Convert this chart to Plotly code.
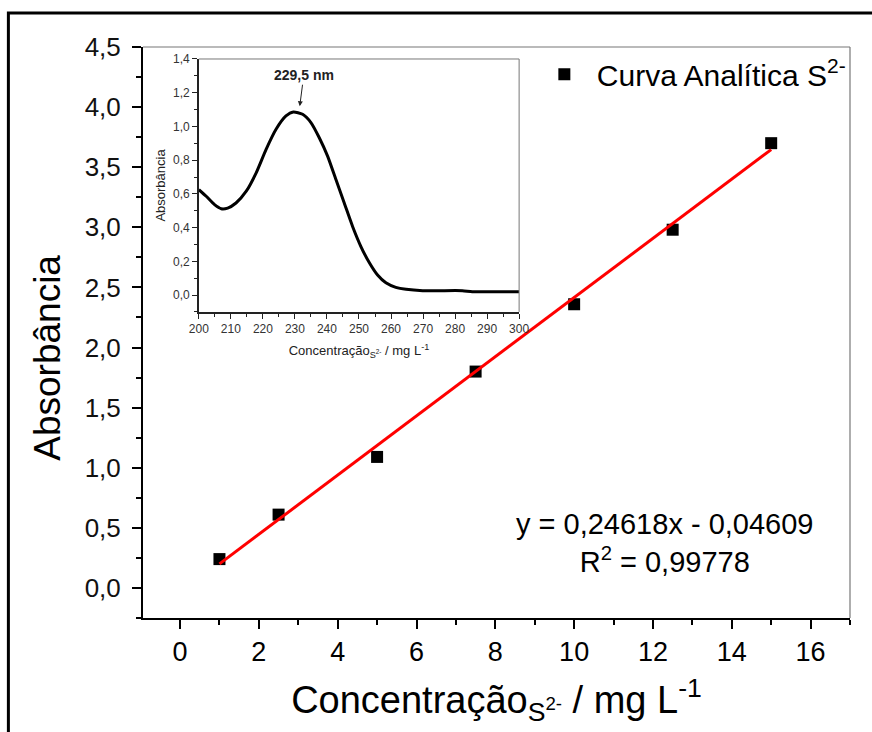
import plotly.graph_objects as go

# Calibration data (sulfide standards)
conc = [1.0, 2.5, 5.0, 7.5, 10.0, 12.5, 15.0]
absorb = [0.24, 0.61, 1.09, 1.80, 2.36, 2.98, 3.70]
slope, intercept = 0.24618, -0.04609
fit_x = [conc[0], conc[-1]]
fit_y = [slope * v + intercept for v in fit_x]

# UV spectrum of the sulfide solution (inset)
wl = [200.0, 202.3, 204.9, 207.0, 209.0, 211.6, 214.8, 217.9, 221.0, 224.1,
      227.2, 229.5, 232.4, 235.0, 237.6, 240.2, 242.8, 245.4, 248.0, 250.6,
      253.2, 255.8, 258.4, 261.5, 264.7, 269.9, 275.0, 282.3, 285.4, 300.0]
spec = [0.625, 0.586, 0.536, 0.512, 0.516, 0.546, 0.616, 0.725, 0.864, 0.983,
        1.062, 1.086, 1.072, 1.023, 0.933, 0.824, 0.685, 0.546, 0.407, 0.288,
        0.193, 0.119, 0.073, 0.046, 0.034, 0.026, 0.026, 0.026, 0.020, 0.020]

x_ticks = [0, 2, 4, 6, 8, 10, 12, 14, 16]
y_ticks = [0, 0.5, 1.0, 1.5, 2.0, 2.5, 3.0, 3.5, 4.0, 4.5]
y_ticktext = ["0,0", "0,5", "1,0", "1,5", "2,0", "2,5", "3,0", "3,5", "4,0", "4,5"]
ix_ticks = list(range(200, 301, 10))
iy_ticks = [0, 0.2, 0.4, 0.6, 0.8, 1.0, 1.2, 1.4]
iy_ticktext = ["0,0", "0,2", "0,4", "0,6", "0,8", "1,0", "1,2", "1,4"]

ARIAL = "Liberation Sans, Arial, sans-serif"

fig = go.Figure()
fig.add_trace(go.Scatter(
    x=conc, y=absorb, mode="markers", name="Curva Analítica S<sup>2-</sup>",
    marker=dict(symbol="square", size=12, color="black"),
))
fig.add_trace(go.Scatter(
    x=fit_x, y=fit_y, mode="lines", showlegend=False,
    line=dict(color="#ff0000", width=3),
))
fig.add_trace(go.Scatter(
    x=wl, y=spec, mode="lines", showlegend=False, xaxis="x2", yaxis="y2",
    line=dict(color="black", width=3, shape="spline", smoothing=0.6),
))

fig.update_layout(
    width=872, height=732,
    margin=dict(l=143, r=20, t=47, b=114),
    paper_bgcolor="white", plot_bgcolor="white",
    xaxis=dict(
        range=[-0.94, 17], tickvals=x_ticks, showgrid=False, zeroline=False,
        showline=True, linecolor="black", linewidth=2, mirror=False,
        ticks="outside", ticklen=9, tickwidth=2, tickcolor="black",
        minor=dict(dtick=1, tick0=1, ticks="outside", ticklen=5, tickwidth=2, tickcolor="black"),
        tickfont=dict(family=ARIAL, size=27, color="black"),
        title=dict(text="Concentração<sub>S<sup>2-</sup></sub> / mg L<sup>-1</sup>",
                   font=dict(family=ARIAL, size=38, color="black"), standoff=20),
    ),
    yaxis=dict(
        range=[-0.25, 4.5], tickvals=y_ticks, ticktext=y_ticktext, showgrid=False,
        zeroline=False, showline=True, linecolor="black", linewidth=2, mirror=False,
        ticks="outside", ticklen=9, tickwidth=2, tickcolor="black",
        minor=dict(dtick=0.5, tick0=0.25, ticks="outside", ticklen=5, tickwidth=2, tickcolor="black"),
        tickfont=dict(family=ARIAL, size=26, color="#111"),
        ticklabelstandoff=6,
    ),
    xaxis2=dict(
        domain=[0.079, 0.532], anchor="y2", range=[200, 300], tickvals=ix_ticks,
        showgrid=False, zeroline=False, showline=True, linecolor="#222", linewidth=1.5,
        ticks="outside", ticklen=5, tickwidth=1, tickcolor="#222",
        minor=dict(dtick=5, ticks="outside", ticklen=3, tickwidth=1, tickcolor="#222"),
        tickfont=dict(family=ARIAL, size=12, color="#333"),
        title=dict(text="Concentração<sub>S<sup>2-</sup></sub> / mg L<sup>-1</sup>",
                   font=dict(family=ARIAL, size=13, color="#222"), standoff=11),
    ),
    yaxis2=dict(
        domain=[0.536, 0.979], anchor="x2", range=[-0.1, 1.4], tickvals=iy_ticks,
        ticktext=iy_ticktext, showgrid=False, zeroline=False, showline=True,
        linecolor="#222", linewidth=1.5, ticks="outside", ticklen=5, tickwidth=1,
        tickcolor="#222",
        minor=dict(dtick=0.2, tick0=0.1, ticks="outside", ticklen=3, tickwidth=1, tickcolor="#222"),
        tickfont=dict(family=ARIAL, size=12, color="#333"),
        title=dict(text="Absorbância", font=dict(family=ARIAL, size=13, color="#222"), standoff=4),
    ),
    legend=dict(
        x=0.55, y=0.998, xanchor="left", yanchor="top", bgcolor="rgba(0,0,0,0)",
        font=dict(family=ARIAL, size=30, color="black"), itemwidth=55,
    ),
    annotations=[
        dict(text="Absorbância", xref="paper", yref="paper", x=-0.135, y=0.455,
             xanchor="center", yanchor="middle", textangle=-90, showarrow=False,
             font=dict(family=ARIAL, size=37, color="black")),
        dict(text="y = 0,24618x - 0,04609<br>R<sup>2</sup> = 0,99778", xref="paper", yref="paper",
             x=0.737, y=0.131, xanchor="center", yanchor="middle", showarrow=False,
             align="center", font=dict(family=ARIAL, size=29, color="black")),
        dict(text="<b>229,5 nm</b>", xref="x2", yref="y2", x=231.5, y=1.12,
             ax=4, ay=-31, showarrow=True, arrowhead=2, arrowsize=1, arrowwidth=1,
             arrowcolor="#222", font=dict(family=ARIAL, size=14, color="#222")),
    ],
    shapes=[
        # thin grey top/right frame of main plot
        dict(type="line", xref="paper", yref="paper", x0=0, x1=1, y0=1, y1=1,
             line=dict(color="#777", width=1.2)),
        dict(type="line", xref="paper", yref="paper", x0=1, x1=1, y0=0, y1=1,
             line=dict(color="#777", width=1.2)),
        # thin grey top/right frame of the inset
        dict(type="line", xref="x2 domain", yref="y2 domain", x0=0, x1=1, y0=1, y1=1,
             line=dict(color="#777", width=1)),
        dict(type="line", xref="x2 domain", yref="y2 domain", x0=1, x1=1, y0=0, y1=1,
             line=dict(color="#777", width=1)),
        # outer figure border
        dict(type="rect", xref="paper", yref="paper", x0=-0.1904, x1=1.2, y0=-0.3, y1=1.0595,
             line=dict(color="black", width=3), layer="above"),
    ],
)

fig.write_html("out.html")
